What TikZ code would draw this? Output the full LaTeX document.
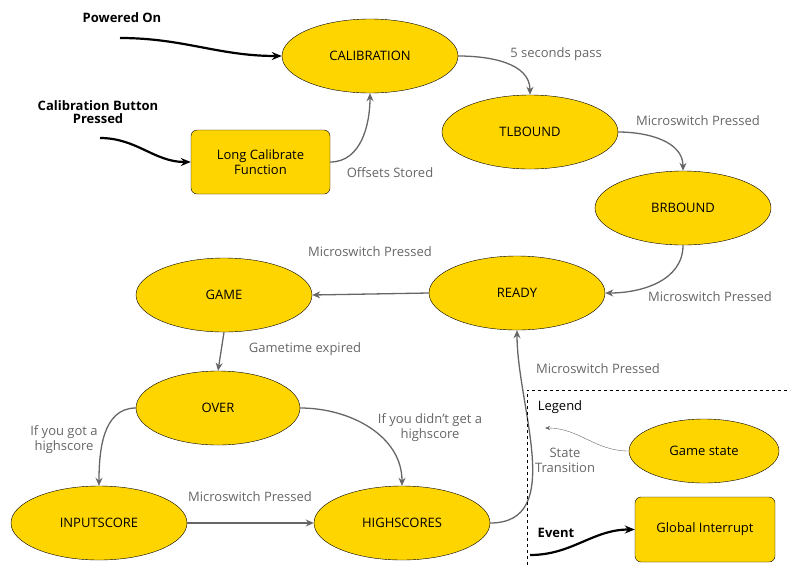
\documentclass[tikz,border=0pt]{standalone}
\usepackage{fontspec}
\setmainfont{Open Sans}
\usetikzlibrary{shapes.geometric,arrows.meta,positioning}
\definecolor{stateyellow}{HTML}{FFD500}
\definecolor{transgray}{HTML}{666666}
\tikzset{
  state/.style={ellipse,draw=black,fill=stateyellow,minimum width=176pt,minimum height=74pt,font=\fontsize{13}{15}\selectfont},
  func/.style={rectangle,rounded corners=6pt,draw=black,fill=stateyellow,align=center,font=\fontsize{13}{15}\selectfont},
  trans/.style={-{Stealth[length=8pt,width=7pt]},transgray,line width=1.3pt},
  event/.style={-{Stealth[length=10pt,width=8pt]},black,line width=2.2pt},
  tlabel/.style={transgray,font=\fontsize{13}{15}\selectfont,align=center},
  elabel/.style={black,font=\bfseries\fontsize{13}{15}\selectfont,align=center}
}
\begin{document}
\begin{tikzpicture}[x=1pt,y=-1pt]
  \useasboundingbox (0,0) rectangle (800,574);

  % States
  \node[state] (calib) at (370,56) {CALIBRATION};
  \node[state] (tlbound) at (530,132) {TLBOUND};
  \node[state] (brbound) at (683,208) {BRBOUND};
  \node[state] (ready) at (517,293) {READY};
  \node[state] (game) at (224,295) {GAME};
  \node[state,minimum width=164pt] (over) at (218,408) {OVER};
  \node[state] (input) at (99,523) {INPUTSCORE};
  \node[state] (high) at (402,523) {HIGHSCORES};
  \node[func,minimum width=139pt,minimum height=64pt] (longcal) at (260.5,162) {Long Calibrate\\Function};

  % Events
  \node[elabel] (poweron) at (122,18) {Powered On};
  \coordinate (poweronstart) at (120,38);
  \draw[event] (poweronstart) to[out=0,in=180] (calib.west);
  \node[elabel] (calbutton) at (98,112) {Calibration Button\\[-2pt]Pressed};
  \coordinate (calbuttonstart) at (100,138);
  \draw[event] (calbuttonstart) to[out=0,in=180] (longcal.west);

  % Transitions
  \draw[trans] (longcal.east) to[out=0,in=-90] (calib.south);
  \node[tlabel] (lbl_offsets) at (390,173) {Offsets Stored};
  \draw[trans] (calib.east) to[out=0,in=90] (tlbound.north);
  \node[tlabel] (lbl_5sec) at (556,54) {5 seconds pass};
  \draw[trans] (tlbound.east) to[out=0,in=90] (brbound.north);
  \node[tlabel] (lbl_tl) at (698,121) {Microswitch Pressed};
  \draw[trans] (brbound.south) to[out=-90,in=0] (ready.east);
  \node[tlabel] (lbl_br) at (710,297) {Microswitch Pressed};
  \draw[trans] (ready.west) -- (game.east);
  \node[tlabel] (lbl_ready) at (370,252) {Microswitch Pressed};
  \draw[trans] (game.south) -- (over.north);
  \node[tlabel] (lbl_gametime) at (305,349) {Gametime expired};
  \draw[trans] (over.west) to[out=180,in=90] (input.north);
  \node[tlabel] (lbl_got) at (64,440) {If you got a\\highscore};
  \draw[trans] (over.east) to[out=0,in=90] (high.north);
  \node[tlabel] (lbl_didnt) at (430,428) {If you didn't get a\\highscore};
  \draw[trans] (input.east) -- (high.west);
  \node[tlabel] (lbl_input) at (250,497) {Microswitch Pressed};
  \draw[trans] (high.east) to[out=0,in=-90] (ready.south);
  \node[tlabel] (lbl_high) at (598,369) {Microswitch Pressed};

  % Legend
  \draw[dashed,black,line width=0.8pt] (527,565) -- (527,390) -- (790,390);
  \node[font=\fontsize{13}{15}\selectfont] (legend) at (560,407) {Legend};
  \node[state,minimum width=150pt,minimum height=64pt] (gstate) at (704,451) {Game state};
  \coordinate (transend) at (545,428);
  \draw[-{Stealth[length=5pt,width=4pt]},transgray,line width=0.4pt] (gstate.west) to[out=180,in=0] (transend);
  \node[tlabel] (lbl_state) at (565,460) {State\\Transition};
  \node[func,minimum width=140pt,minimum height=65pt] (global) at (705,529.5) {Global Interrupt};
  \node[elabel] (lbl_event) at (556,533) {Event};
  \coordinate (eventstart) at (530,555);
  \draw[event] (eventstart) to[out=0,in=180] (global.west);
\end{tikzpicture}
\end{document}
